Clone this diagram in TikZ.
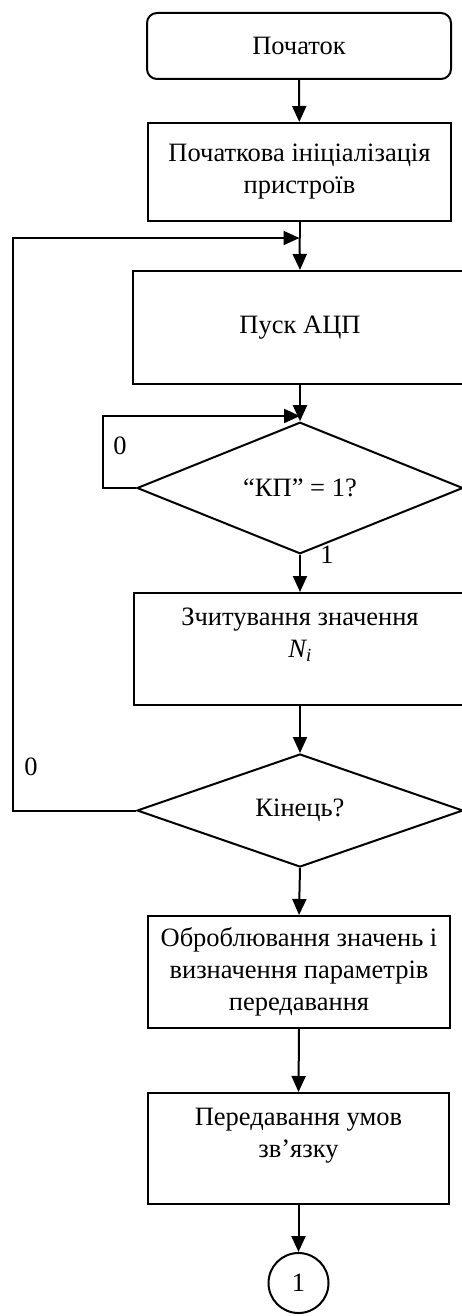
\documentclass[tikz,border=0pt]{standalone}
\usepackage{fontspec}
\setmainfont{Liberation Serif}
\usetikzlibrary{shapes.geometric,arrows.meta}
\begin{document}
\begin{tikzpicture}[x=1pt,y=-1pt,
  every node/.style={font=\fontsize{26.5}{32}\selectfont},
  base/.style={draw,line width=2pt,inner sep=0pt,align=center},
  stepbox/.style={base,rectangle},
  startbox/.style={base,rectangle,rounded corners=10pt},
  decision/.style={base,diamond},
  conn/.style={base,circle},
  flow/.style={line width=2pt,-{Triangle[length=16pt,width=14pt]}},
  plain/.style={line width=2pt},
  lbl/.style={inner sep=0pt}]
\useasboundingbox (0,0) rectangle (462,1316);
\clip (0,0) rectangle (462,1316);

\node[startbox,minimum width=304pt,minimum height=66pt] (start) at (299,46) {Початок};
\node[stepbox,minimum width=303pt,minimum height=98pt] (init) at (299.5,172) {Початкова ініціалізація\\пристроїв};
\node[stepbox,minimum width=334pt,minimum height=113pt] (adc) at (300,327.5) {Пуск АЦП};
\node[decision,minimum width=326pt,minimum height=112pt] (d1) at (300,488) {“КП” = 1?};
\node[stepbox,minimum width=332pt,minimum height=112pt] (read) at (300,649) {Зчитування значення\\\textit{N\textsubscript{i}}\\\mbox{}};
\node[decision,minimum width=326pt,minimum height=113pt] (d2) at (300,810.5) {Кінець?};
\node[stepbox,minimum width=302pt,minimum height=112pt] (proc) at (299,972) {Оброблювання значень і\\визначення параметрів\\передавання};
\node[stepbox,minimum width=301pt,minimum height=111pt] (send) at (298.5,1148.5) {Передавання умов\\зв’язку\\\mbox{}};
\node[conn,minimum size=60pt] (c1) at (298.5,1283) {1};

\coordinate (j2) at (299.5,238);
\coordinate (j1) at (300,416);

\draw[flow] (start) -- (init);
\draw[plain] (init.south) -- (j2);
\draw[flow] (j2) -- (adc.north);
\draw[plain] (adc.south) -- (j1);
\draw[flow] (j1) -- (d1.north);
\draw[flow] (d1.south) -- (read.north);
\draw[flow] (read.south) -- (d2.north);
\draw[flow] (d2.south) -- (proc.north);
\draw[flow] (proc.south) -- (send.north);
\draw[flow] (send.south) -- (c1.north);

\draw[flow] (d1.west) -- (103,488) |- (j1);
\draw[flow] (d2.west) -- (13,810.5) |- (j2);

\node[lbl] (l0a) at (120,446) {0};
\node[lbl] (l1) at (327,555) {1};
\node[lbl] (l0b) at (31,767) {0};
\end{tikzpicture}
\end{document}
